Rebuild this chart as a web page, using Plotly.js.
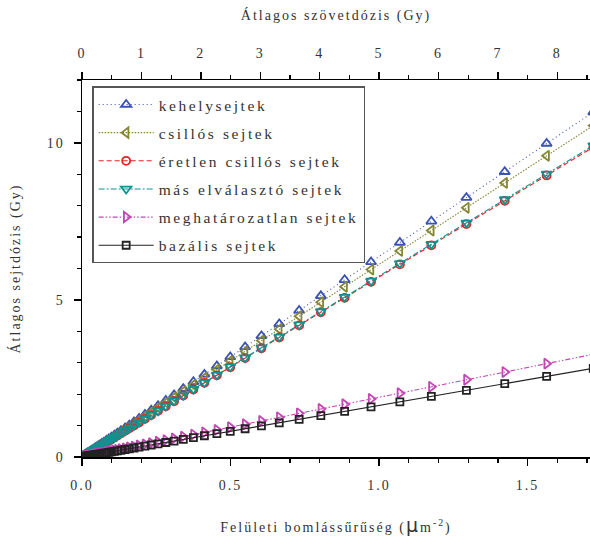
<!DOCTYPE html>
<html>
<head>
<meta charset="utf-8">
<script src="https://cdn.plot.ly/plotly-3.0.1.min.js"></script>
<style>
html,body{margin:0;padding:0;background:#fff;}
svg text{letter-spacing:2px;}
svg text.legendtext{letter-spacing:2.6px;}
</style>
</head>
<body>
<div id="chart" style="width:590px;height:539px;"></div>
<script>
// Surface decay density (µm^-2)
const xDensity = [0.010,0.012,0.014,0.016,0.018,0.020,0.022,0.025,0.028,0.031,0.034,0.038,0.042,0.046,0.051,0.056,0.061,0.067,0.074,0.082,0.090,0.099,0.109,0.119,0.131,0.145,0.159,0.175,0.192,0.212,0.233,0.256,0.282,0.310,0.341,0.375,0.412,0.454,0.499,0.549,0.604,0.664,0.731,0.804,0.884,0.973,1.070,1.176,1.294,1.423,1.564,1.721];

const kehelysejtek = [0.064,0.077,0.089,0.102,0.115,0.128,0.140,0.160,0.179,0.198,0.217,0.242,0.268,0.293,0.325,0.357,0.389,0.427,0.472,0.523,0.574,0.632,0.695,0.759,0.836,0.925,1.014,1.117,1.225,1.353,1.487,1.633,1.799,1.978,2.176,2.393,2.629,2.897,3.184,3.503,3.854,4.236,4.664,5.130,5.640,6.208,6.827,7.503,8.256,9.079,9.978,10.980];

const csillosSejtek = [0.061,0.074,0.086,0.098,0.110,0.123,0.135,0.153,0.172,0.190,0.208,0.233,0.257,0.282,0.313,0.343,0.374,0.411,0.454,0.503,0.552,0.607,0.668,0.729,0.803,0.889,0.975,1.073,1.177,1.300,1.428,1.569,1.729,1.900,2.090,2.299,2.526,2.783,3.059,3.365,3.703,4.070,4.481,4.929,5.419,5.965,6.559,7.209,7.932,8.723,9.587,10.550];

const eretlenCsillos = [0.057,0.069,0.080,0.092,0.103,0.115,0.126,0.143,0.160,0.178,0.195,0.218,0.241,0.264,0.292,0.321,0.350,0.384,0.424,0.470,0.516,0.567,0.625,0.682,0.751,0.831,0.911,1.003,1.100,1.215,1.335,1.467,1.616,1.776,1.954,2.149,2.361,2.601,2.859,3.146,3.461,3.805,4.189,4.607,5.065,5.575,6.131,6.738,7.415,8.154,8.962,9.861];

const masElvalaszto = [0.058,0.069,0.081,0.092,0.104,0.115,0.127,0.144,0.161,0.179,0.196,0.219,0.242,0.265,0.294,0.323,0.351,0.386,0.426,0.472,0.518,0.570,0.628,0.685,0.755,0.835,0.916,1.008,1.106,1.221,1.342,1.475,1.624,1.786,1.964,2.160,2.373,2.615,2.874,3.162,3.479,3.825,4.211,4.631,5.092,5.604,6.163,6.774,7.453,8.196,9.009,9.913];

const meghatarozatlan = [0.019,0.023,0.027,0.030,0.034,0.038,0.042,0.048,0.053,0.059,0.065,0.072,0.080,0.087,0.097,0.106,0.116,0.127,0.141,0.156,0.171,0.188,0.207,0.226,0.249,0.276,0.302,0.333,0.365,0.403,0.443,0.486,0.536,0.589,0.648,0.713,0.783,0.863,0.948,1.043,1.148,1.262,1.389,1.528,1.680,1.849,2.033,2.234,2.459,2.704,2.972,3.270];

const bazalisSejtek = [0.016,0.020,0.023,0.026,0.030,0.033,0.036,0.041,0.046,0.051,0.056,0.062,0.069,0.075,0.084,0.092,0.100,0.110,0.121,0.134,0.148,0.162,0.179,0.195,0.215,0.238,0.261,0.287,0.315,0.348,0.382,0.420,0.462,0.508,0.559,0.615,0.676,0.745,0.818,0.900,0.991,1.089,1.199,1.319,1.450,1.596,1.755,1.929,2.122,2.334,2.565,2.822];

const seriesNames = ["kehelysejtek","csillós sejtek","éretlen csillós sejtek","más elválasztó sejtek","meghatározatlan sejtek","bazális sejtek"];
const seriesValues = [kehelysejtek, csillosSejtek, eretlenCsillos, masElvalaszto, meghatarozatlan, bazalisSejtek];
const yTickVals = [0,5,10];
const yTickText = ["0","5","10"];
const xTickVals = [0,0.5,1.0,1.5];
const xTickText = ["0.0","0.5","1.0","1.5"];
const topTickVals = [0,1,2,3,4,5,6,7,8];

const styles = [
  {color:"#3a52b4", symbol:"triangle-up-open", dash:"1px,3px", size:9},
  {color:"#858536", symbol:"triangle-left-open", dash:"1.5px,1.5px", size:9},
  {color:"#e52222", symbol:"circle-open", dash:"5px,3px", size:8},
  {color:"#11928f", symbol:"triangle-down-open", dash:"6px,2px,2px,2px", size:9},
  {color:"#c445b4", symbol:"triangle-right-open", dash:"5px,2px,1.5px,2px,1.5px,2px", size:9},
  {color:"#222222", symbol:"square-open", dash:"solid", size:7}
];

const traces = seriesNames.map((name,i)=>({
  type:"scatter", mode:"lines+markers", name:name,
  x:xDensity, y:seriesValues[i],
  legendgroup:"g"+i,
  line:{color:styles[i].color, width:1.1, dash:styles[i].dash},
  marker:{symbol:styles[i].symbol, size:styles[i].size, color:styles[i].color, line:{width:1.8, color:styles[i].color}}
}));

const fontFam = "Liberation Serif, DejaVu Serif, serif";
const txtColor = "#333333";

const layout = {
  width:590, height:539,
  margin:{l:82, r:0, t:80, b:82},
  paper_bgcolor:"#ffffff", plot_bgcolor:"#ffffff",
  font:{family:fontFam, size:14, color:txtColor},
  showlegend:true,
  legend:{x:0.02, y:0.983, xanchor:"left", yanchor:"top",
    bordercolor:"#555555", borderwidth:1.5, bgcolor:"rgba(255,255,255,0)",
    font:{family:fontFam, size:15.5, color:txtColor},
    itemwidth:55,
    traceorder:"grouped", tracegroupgap:5},
  xaxis:{range:[0,1.71], showgrid:false, zeroline:false,
    showline:true, linecolor:"#000", linewidth:1.5,
    ticks:"outside", ticklen:7, tickwidth:1.5, tickcolor:"#000",
    tickvals:xTickVals, ticktext:xTickText, ticklabelstandoff:8,
    minor:{dtick:0.1, tick0:0, ticks:"outside", ticklen:4, tickwidth:1.2, tickcolor:"#000", showgrid:false},
    tickfont:{family:fontFam, size:14, color:txtColor},
    title:{text:"Felületi bomlássűrűség (<span style=\"font-size:19px;font-family:DejaVu Sans\">μ</span>m<sup>-2</sup>)", standoff:30, font:{family:fontFam, size:14, color:txtColor}}
  },
  xaxis2:{range:[0,8.55], overlaying:"x", side:"top", anchor:"y", showgrid:false, zeroline:false,
    showline:true, linecolor:"#000", linewidth:1.5,
    ticks:"outside", ticklen:7, tickwidth:1.5, tickcolor:"#000",
    tickvals:topTickVals, ticklabelstandoff:8,
    minor:{dtick:0.5, tick0:0, ticks:"outside", ticklen:4, tickwidth:1.2, tickcolor:"#000", showgrid:false},
    tickfont:{family:fontFam, size:14, color:txtColor},
    title:{text:"Átlagos szövetdózis (Gy)", standoff:22, font:{family:fontFam, size:14, color:txtColor}}
  },
  yaxis:{range:[0,12], showgrid:false, zeroline:false,
    showline:true, linecolor:"#000", linewidth:1.5,
    ticks:"outside", ticklen:7, tickwidth:1.5, tickcolor:"#000",
    tickvals:yTickVals, ticktext:yTickText, ticklabelstandoff:6,
    minor:{dtick:1, tick0:0, ticks:"outside", ticklen:4, tickwidth:1.2, tickcolor:"#000", showgrid:false},
    tickfont:{family:fontFam, size:14, color:txtColor},
    title:{text:"Átlagos sejtdózis (Gy)", standoff:23, font:{family:fontFam, size:14, color:txtColor}}
  }
};

traces.push({type:"scatter", mode:"none", x:[0], y:[0], xaxis:"x2", yaxis:"y", showlegend:false, hoverinfo:"skip"});

Plotly.newPlot("chart", traces, layout, {displayModeBar:false, staticPlot:true});
</script>
</body>
</html>
